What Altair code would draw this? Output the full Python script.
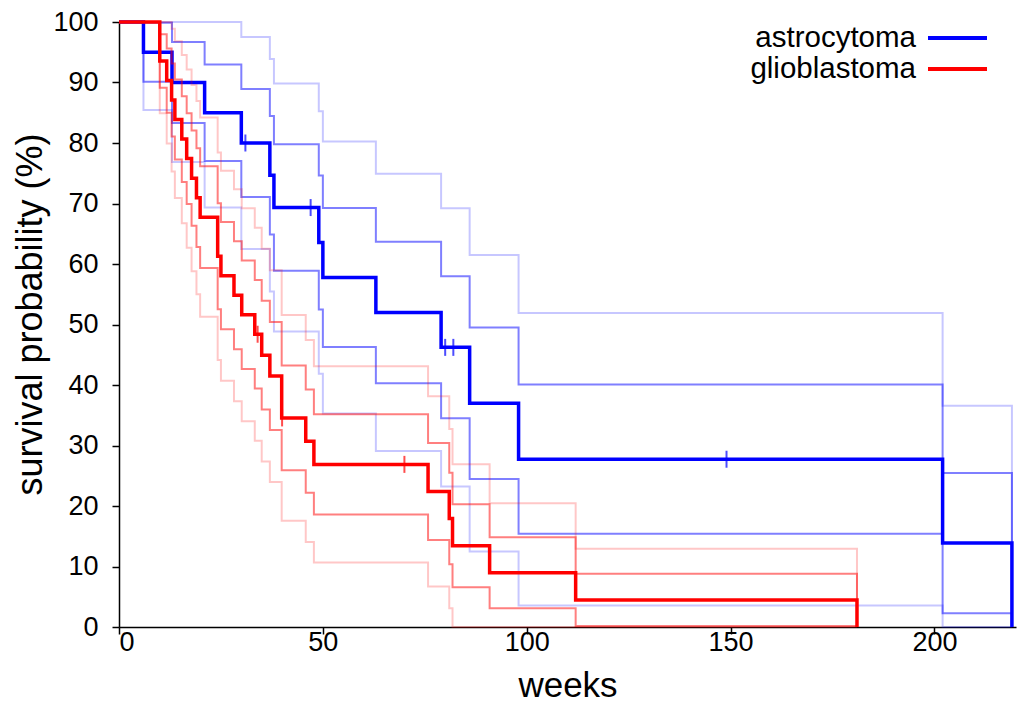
import altair as alt
import pandas as pd

# ---------------- data ----------------
# astrocytoma: event times (weeks) and survival (%) with two confidence bands
astro_t = [0, 6, 13, 21, 30, 37, 38, 49, 50, 63, 79, 86, 98, 202, 219]
astro_s = [100, 95, 90, 85, 80, 74.67, 69.33, 63.56, 57.78, 52.0, 46.22, 36.98, 27.73, 13.87, 0]
astro_in_hi = [100, 99.87, 96.71, 92.98, 88.94, 84.48, 79.79, 74.62, 69.25, 63.69, 57.96, 49.49, 40.07, 25.45, 0]
astro_in_lo = [100, 90.13, 83.29, 77.02, 71.06, 64.86, 58.87, 52.49, 46.30, 40.31, 34.49, 24.47, 15.40, 2.28, 0]
astro_out_hi = [100, 100, 100, 100, 97.53, 93.89, 89.83, 85.25, 80.26, 74.91, 69.22, 61.49, 51.91, 36.57, 0]
astro_out_lo = [100, 85.45, 76.85, 69.35, 62.47, 55.44, 48.83, 41.86, 35.29, 29.09, 23.23, 12.46, 3.56, 0, 0]
astro_cens_t = [31, 47, 80, 82, 149]
astro_cens_s = [80, 69.33, 46.22, 46.22, 27.73]

# glioblastoma
glio_t = [0, 10, 11.7, 12.9, 13.7, 15.4, 16.6, 17.8, 19.0, 19.9, 24.2, 25.0, 28.2, 30.1, 33.3,
          35.0, 37.0, 39.9, 45.8, 47.8, 75.8, 81.0, 81.8, 90.9, 112, 181]
glio_s = [100, 93.55, 90.32, 87.10, 83.87, 80.65, 77.42, 74.19, 70.97, 67.74, 61.29, 58.06, 54.84,
          51.61, 48.39, 44.93, 41.47, 34.56, 30.72, 26.88, 22.40, 17.92, 13.44, 8.96, 4.48, 0]
glio_in_hi = [100, 97.96, 95.63, 93.12, 90.48, 87.74, 84.93, 82.05, 79.12, 76.14, 70.04, 66.93, 63.78,
              60.59, 57.36, 53.91, 50.40, 43.24, 39.24, 35.16, 30.42, 25.48, 20.31, 14.82, 8.80, 0]
glio_in_lo = [100, 89.14, 85.01, 81.08, 77.26, 73.55, 69.91, 66.33, 62.81, 59.35, 52.54, 49.20, 45.90,
              42.64, 39.41, 35.96, 32.55, 25.89, 22.20, 18.61, 14.39, 10.36, 6.57, 3.10, 0.16, 0]
glio_out_hi = [100, 100, 100, 98.90, 96.82, 94.56, 92.14, 89.59, 86.95, 84.20, 78.44, 75.43, 72.36,
               69.20, 65.98, 62.52, 58.97, 51.56, 47.42, 43.10, 38.12, 32.74, 26.91, 20.45, 12.94, 0]
glio_out_lo = [100, 84.90, 79.91, 75.30, 70.92, 66.74, 62.70, 58.79, 54.99, 51.29, 44.14, 40.69, 37.32,
               34.02, 30.80, 27.34, 23.98, 17.56, 14.03, 10.66, 6.69, 3.10, 0, 0, 0, 0]
glio_cens_t = [34, 40, 70]
glio_cens_s = [48.39, 34.56, 26.88]

groups = ["astrocytoma", "glioblastoma"]
colors = ["#0000ff", "#ff0000"]

# ---------------- tables ----------------
rows = []
def add(ts, vs, group, band):
    for t, v in zip(ts, vs):
        rows.append({"t": t, "v": v, "group": group, "band": band})

add(astro_t, astro_s, "astrocytoma", "main")
add(astro_t, astro_in_hi, "astrocytoma", "in_hi")
add(astro_t, astro_in_lo, "astrocytoma", "in_lo")
add(astro_t, astro_out_hi, "astrocytoma", "out_hi")
add(astro_t, astro_out_lo, "astrocytoma", "out_lo")
add(glio_t, glio_s, "glioblastoma", "main")
add(glio_t, glio_in_hi, "glioblastoma", "in_hi")
add(glio_t, glio_in_lo, "glioblastoma", "in_lo")
add(glio_t, glio_out_hi, "glioblastoma", "out_hi")
add(glio_t, glio_out_lo, "glioblastoma", "out_lo")
df = pd.DataFrame(rows)

cens = pd.DataFrame(
    [{"t": t, "v": v, "group": "astrocytoma"} for t, v in zip(astro_cens_t, astro_cens_s)]
    + [{"t": t, "v": v, "group": "glioblastoma"} for t, v in zip(glio_cens_t, glio_cens_s)]
)

FONT = "Liberation Sans"

x_enc = alt.X("t:Q", scale=alt.Scale(domain=[0, 220], nice=False),
              axis=alt.Axis(values=[0, 50, 100, 150, 200], title="weeks",
                            labelPadding=-5, titlePadding=13))
y_enc = alt.Y("v:Q", scale=alt.Scale(domain=[0, 100], nice=False),
              axis=alt.Axis(values=list(range(0, 101, 10)), title="survival probability (%)",
                            labelPadding=14, titlePadding=3, titleY=292, titleFontSize=36))

layers = []
for g, c in zip(groups, colors):
    base = alt.Chart(df).transform_filter(alt.datum.group == g)
    layers.append(base.transform_filter(alt.FieldOneOfPredicate(field="band", oneOf=["out_hi", "out_lo"]))
                  .mark_line(interpolate="step-after", color=c, opacity=0.22, strokeWidth=2)
                  .encode(x=x_enc, y=y_enc, detail="band:N"))
    layers.append(base.transform_filter(alt.FieldOneOfPredicate(field="band", oneOf=["in_hi", "in_lo"]))
                  .mark_line(interpolate="step-after", color=c, opacity=0.5, strokeWidth=2)
                  .encode(x=x_enc, y=y_enc, detail="band:N"))
    layers.append(base.transform_filter(alt.datum.band == "main")
                  .mark_line(interpolate="step-after", color=c, strokeWidth=3.5)
                  .encode(x=x_enc, y=y_enc))
    layers.append(alt.Chart(cens).transform_filter(alt.datum.group == g)
                  .mark_tick(orient="vertical", size=17, thickness=2, color=c)
                  .encode(x=x_enc, y=y_enc))

# legend (label left of a line sample, top right)
leg_y = [16, 47]
for g, c, yy in zip(groups, colors, leg_y):
    layers.append(alt.Chart(pd.DataFrame({"label": [g]})).mark_text(
        align="right", baseline="middle", font=FONT, fontSize=29.5, color="black")
        .encode(text="label:N", x=alt.value(797), y=alt.value(yy)))
    layers.append(alt.Chart(pd.DataFrame({"label": [g]})).mark_rule(color=c, strokeWidth=4)
        .encode(x=alt.value(809), x2=alt.value(868), y=alt.value(yy)))

chart = alt.layer(*layers).properties(
    width=897, height=605, autosize="none",
    padding={"left": 119, "top": 22, "right": 6, "bottom": 79},
).configure_view(stroke=None).configure_axis(
    grid=False, domainColor="black", domainWidth=1.5, tickColor="black", tickWidth=1.5,
    tickSize=7, labelFont=FONT, titleFont=FONT, labelFontSize=27, titleFontSize=35,
    labelColor="black", titleColor="black", titleFontWeight="normal",
)

chart.save("out.html", embed_options={"renderer": "svg", "actions": False})
